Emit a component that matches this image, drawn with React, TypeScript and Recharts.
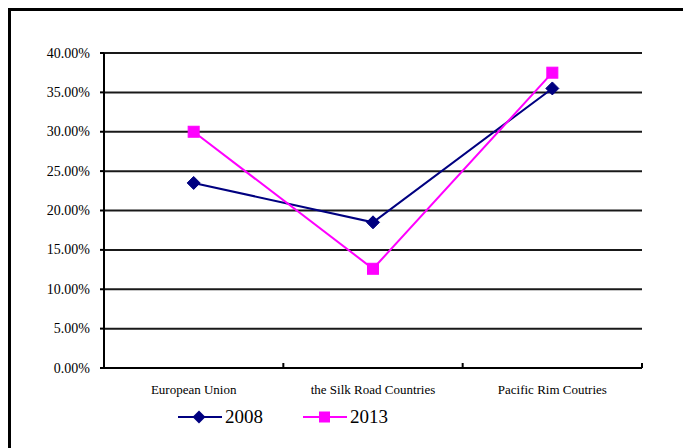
import React from 'react';
import { LineChart, Line, XAxis, YAxis, CartesianGrid, Legend } from 'recharts';

const categories = ['European Union', 'the Silk Road Countries', 'Pacific Rim Coutries'];
const values2008 = [0.235, 0.185, 0.355];
const values2013 = [0.30, 0.126, 0.375];
const yTicks = [0, 0.05, 0.1, 0.15, 0.2, 0.25, 0.3, 0.35, 0.4];
const xTicks = [0, 0.5, 1, 1.5, 2, 2.5, 3];
const seriesNames = ['2008', '2013'];

const NAVY = '#000080';
const MAGENTA = '#FF00FF';
const FONT = 'Liberation Serif';

const data = categories.map((name, i) => ({
  x: i + 0.5,
  name,
  y2008: values2008[i],
  y2013: values2013[i],
}));

const Diamond = (props: any) => {
  const { cx, cy } = props;
  if (cx == null || cy == null) return null;
  const r = 6.5;
  return <polygon points={`${cx},${cy - r} ${cx + r},${cy} ${cx},${cy + r} ${cx - r},${cy}`} fill={NAVY} stroke={NAVY} />;
};

const Square = (props: any) => {
  const { cx, cy } = props;
  if (cx == null || cy == null) return null;
  const s = 11;
  return <rect x={cx - s / 2} y={cy - s / 2} width={s} height={s} fill={MAGENTA} stroke={MAGENTA} />;
};

const XTick = (props: any) => {
  const { x, y, payload } = props;
  const v = payload.value;
  if (Number.isInteger(v)) {
    if (v === 0) return null;
    return <line x1={x} y1={y} x2={x} y2={y - 5} stroke="#000" strokeWidth={2} />;
  }
  const label = categories[Math.floor(v)];
  return (
    <text x={x} y={y + 26} textAnchor="middle" fontFamily={FONT} fontSize={13} fill="#000">
      {label}
    </text>
  );
};

const YTick = (props: any) => {
  const { x, y, payload } = props;
  return (
    <text x={x} y={y} dy={4.5} textAnchor="end" fontFamily={FONT} fontSize={14} fill="#000">
      {(payload.value * 100).toFixed(2) + '%'}
    </text>
  );
};

const LegendContent = () => {
  const items = [
    { name: seriesNames[0], color: NAVY, kind: 'diamond' },
    { name: seriesNames[1], color: MAGENTA, kind: 'square' },
  ];
  return (
    <div style={{ display: 'flex', alignItems: 'center', height: 26, paddingLeft: 134 }}>
      {items.map((it, i) => (
        <div key={it.name} style={{ display: 'flex', alignItems: 'center', marginRight: i === 0 ? 40 : 0 }}>
          <svg width={44} height={26}>
            <line x1={0} y1={13} x2={44} y2={13} stroke={it.color} strokeWidth={2} />
            {it.kind === 'diamond' ? (
              <polygon points="21,6.5 27.5,13 21,19.5 14.5,13" fill={it.color} />
            ) : (
              <rect x={16} y={7.5} width={11} height={11} fill={it.color} />
            )}
          </svg>
          <span style={{ fontFamily: FONT, fontSize: 19, color: '#000', marginLeft: 3, lineHeight: '26px' }}>{it.name}</span>
        </div>
      ))}
    </div>
  );
};

export default function App() {
  return (
    <div style={{ position: 'absolute', left: 0, top: 0, width: 683, height: 448, overflow: 'hidden', background: '#fff', fontFamily: FONT }}>
      <div
        style={{
          position: 'absolute',
          left: 8,
          top: 8,
          width: 720,
          height: 480,
          borderLeft: '3px solid #000',
          borderTop: '3px solid #000',
        }}
      />
      <div style={{ position: 'absolute', left: 0, top: 0 }}>
        <LineChart width={683} height={448} data={data} margin={{ top: 53, right: 41, bottom: 18, left: 44 }}>
          <CartesianGrid horizontal vertical={false} stroke="#000" strokeWidth={2} strokeOpacity={0.9} />
          <XAxis
            dataKey="x"
            type="number"
            domain={[0, 3]}
            ticks={xTicks}
            interval={0}
            height={36}
            tickLine={false}
            tickSize={0}
            tickMargin={0}
            axisLine={{ stroke: '#000', strokeWidth: 2 }}
            tick={<XTick />}
          />
          <YAxis
            type="number"
            domain={[0, 0.4]}
            ticks={yTicks}
            interval={0}
            width={60}
            tickSize={4}
            tickMargin={10}
            axisLine={{ stroke: '#000', strokeWidth: 2 }}
            tickLine={{ stroke: '#000', strokeWidth: 2 }}
            tick={<YTick />}
          />
          <Legend verticalAlign="bottom" content={<LegendContent />} />
          <Line
            type="linear"
            dataKey="y2008"
            name={seriesNames[0]}
            stroke={NAVY}
            strokeWidth={2}
            dot={<Diamond />}
            activeDot={false}
            isAnimationActive={false}
          />
          <Line
            type="linear"
            dataKey="y2013"
            name={seriesNames[1]}
            stroke={MAGENTA}
            strokeWidth={2}
            dot={<Square />}
            activeDot={false}
            isAnimationActive={false}
          />
        </LineChart>
      </div>
    </div>
  );
}
